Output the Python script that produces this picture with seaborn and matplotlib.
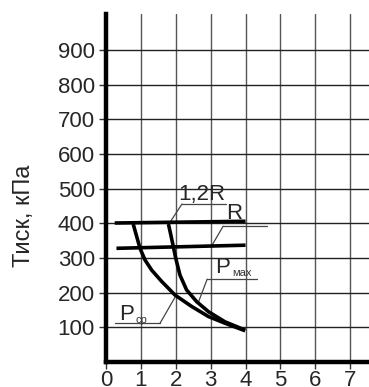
import matplotlib
matplotlib.use('Agg')
import matplotlib.pyplot as plt
import seaborn as sns
import pandas as pd

# Values
x_ticks = [0, 1, 2, 3, 4, 5, 6, 7]
y_ticks = [100, 200, 300, 400, 500, 600, 700, 800, 900]

# P_ср curve (mean pressure)
x_pcp = [0.78, 0.88, 0.975, 1.12, 1.31, 1.60, 1.98, 2.46, 2.94, 3.41, 3.99]
y_pcp = [398, 362, 328, 294, 265, 232, 193, 160, 131, 112, 90]

# P_max curve
x_pmax = [1.79, 1.86, 1.93, 2.00, 2.12, 2.31, 2.60, 2.94, 3.41, 3.99]
y_pmax = [398, 366, 333, 299, 251, 208, 174, 145, 116, 92]

# 1,2R and R lines
x_12r = [0.25, 4.0]
y_12r = [401, 406]
x_r = [0.30, 4.0]
y_r = [328, 337]

sns.set_style('white')
plt.rcParams['font.family'] = ['Liberation Sans', 'DejaVu Sans']

fig = plt.figure(figsize=(3.69, 3.87), dpi=100)
ax = fig.add_axes([106 / 369, 25 / 387, 263 / 369, 348 / 387])

curves = pd.concat([
    pd.DataFrame({'x': x_pcp, 'y': y_pcp, 'name': 'Pср'}),
    pd.DataFrame({'x': x_pmax, 'y': y_pmax, 'name': 'Pmax'}),
    pd.DataFrame({'x': x_12r, 'y': y_12r, 'name': '1,2R'}),
    pd.DataFrame({'x': x_r, 'y': y_r, 'name': 'R'}),
])
for name, grp in curves.groupby('name', sort=False):
    sns.lineplot(data=grp, x='x', y='y', ax=ax, color='black', lw=2.6,
                 sort=False, estimator=None, legend=False, zorder=3)
for line in ax.lines:
    line.set_solid_joinstyle('round')
    line.set_solid_capstyle('butt')

# grid
for xv in x_ticks[1:]:
    ax.axvline(xv, color='#555555', lw=1.0, zorder=1)
for yv in y_ticks:
    ax.axhline(yv, color='#222222', lw=1.0, zorder=1)

ax.set_xlim(0, 7.54)
ax.set_ylim(0, 1004)
ax.set_xticks(x_ticks)
ax.set_yticks(y_ticks)
ax.tick_params(axis='both', direction='out', length=5, width=1.0,
               labelsize=16, pad=1, color='#333333', left=True, bottom=True)
ax.tick_params(axis='y', pad=3)
for side in ['top', 'right']:
    ax.spines[side].set_visible(False)
for side in ['left', 'bottom']:
    ax.spines[side].set_linewidth(3.2)
    ax.spines[side].set_color('black')
    ax.spines[side].set_zorder(4)

ax.set_xlabel('')
ax.set_ylabel('Тиск, кПа', fontsize=17)
ax.yaxis.set_label_coords(-0.27, 0.42)

# labels with leader lines
lc = '#444444'
ax.text(2.75, 482, '1,2R', fontsize=16, ha='center', va='center')
ax.plot([2.18, 3.44], [456, 456], color=lc, lw=0.9)
ax.plot([2.18, 1.84], [456, 404], color=lc, lw=0.9)

ax.text(3.67, 427, 'R', fontsize=16, ha='center', va='center', zorder=2)
ax.plot([3.36, 4.62], [392, 392], color=lc, lw=0.9)
ax.plot([3.36, 3.04], [392, 337], color=lc, lw=0.9)

ax.text(3.33, 272, 'P', fontsize=16, ha='center', va='center')
ax.text(3.9, 256, 'мах', fontsize=8, ha='center', va='center', color='#333333')
ax.plot([2.9, 4.33], [239, 239], color=lc, lw=0.9)
ax.plot([2.9, 2.64], [239, 170], color=lc, lw=0.9)

ax.text(0.6, 138, 'P', fontsize=16, ha='center', va='center')
ax.text(1.03, 121, 'ср', fontsize=8, ha='center', va='center', color='#333333')
ax.plot([0.26, 1.55], [112, 112], color=lc, lw=0.9)
ax.plot([1.55, 1.98], [112, 187], color=lc, lw=0.9)

fig.savefig('out.png', dpi=100)
